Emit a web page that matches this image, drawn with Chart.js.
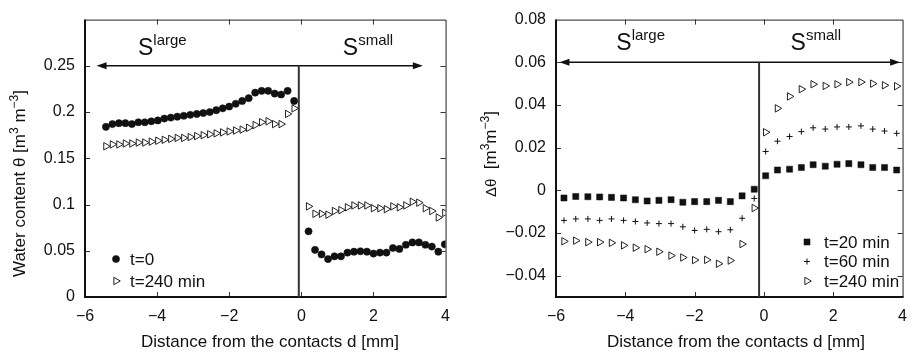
<!DOCTYPE html>
<html>
<head>
<meta charset="utf-8">
<script src="https://cdn.jsdelivr.net/npm/chart.js@4.4.1/dist/chart.umd.min.js"></script>
<style>
  html, body { margin: 0; padding: 0; background: #fff; }
  #wrap { position: relative; width: 917px; height: 355px; }
  canvas { position: absolute; top: 0; }
</style>
</head>
<body>
<div id="wrap">
  <canvas id="left" width="460" height="355" style="left:0"></canvas>
  <canvas id="right" width="457" height="355" style="left:460px"></canvas>
</div>
<script>
// ---- left panel: water content ----
var leftXLarge = [-5.42, -5.24, -5.06, -4.88, -4.70, -4.52, -4.34, -4.16, -3.98, -3.80,
  -3.62, -3.44, -3.26, -3.08, -2.90, -2.72, -2.54, -2.36, -2.18, -2.00,
  -1.82, -1.64, -1.46, -1.28, -1.10, -0.92, -0.74, -0.56, -0.38, -0.20];
var leftXSmall = [0.20, 0.38, 0.56, 0.74, 0.92, 1.10, 1.28, 1.46, 1.64, 1.82, 2.00,
  2.18, 2.36, 2.54, 2.72, 2.90, 3.08, 3.26, 3.44, 3.62, 3.80, 3.98];

var theta0Large = [0.184, 0.187, 0.188, 0.188, 0.187, 0.189, 0.189, 0.190, 0.191, 0.193,
  0.194, 0.195, 0.196, 0.197, 0.198, 0.199, 0.200, 0.202, 0.204, 0.206,
  0.209, 0.212, 0.215, 0.221, 0.223, 0.223, 0.220, 0.219, 0.223, 0.212];
var theta240Large = [0.163, 0.165, 0.165, 0.166, 0.166, 0.167, 0.167, 0.168, 0.169, 0.170,
  0.171, 0.172, 0.172, 0.173, 0.174, 0.175, 0.176, 0.177, 0.178, 0.179,
  0.180, 0.181, 0.183, 0.186, 0.189, 0.190, 0.187, 0.187, 0.198, 0.204];
var theta0Small = [0.071, 0.051, 0.046, 0.041, 0.044, 0.044, 0.048, 0.049, 0.0495, 0.049, 0.047,
  0.048, 0.048, 0.053, 0.052, 0.0565, 0.059, 0.059, 0.0565, 0.0545, 0.049, 0.057];
var theta240Small = [0.098, 0.090, 0.090, 0.089, 0.093, 0.094, 0.097, 0.099, 0.099, 0.099, 0.096,
  0.096, 0.095, 0.098, 0.097, 0.099, 0.103, 0.102, 0.096, 0.093, 0.086, 0.091];

// ---- right panel: change of water content ----
var rightXLarge = [-5.77, -5.43, -5.08, -4.74, -4.40, -4.05, -3.71, -3.37, -3.03,
  -2.68, -2.34, -2.00, -1.65, -1.31, -0.97, -0.63, -0.28];
var rightXSmall = [0.05, 0.39, 0.74, 1.08, 1.42, 1.77, 2.11, 2.45, 2.80, 3.14, 3.48, 3.83];

var d20Large = [-0.0036, -0.0029, -0.0030, -0.0031, -0.0033, -0.0036, -0.0044, -0.0050, -0.0047,
  -0.0044, -0.0056, -0.0053, -0.0053, -0.0047, -0.0053, -0.0026, 0.0005];
var d20Small = [0.0068, 0.0095, 0.0099, 0.0107, 0.0120, 0.0113, 0.0122, 0.0125, 0.0120, 0.0107, 0.0107, 0.0095];
var d60Large = [-0.0141, -0.0134, -0.0134, -0.0141, -0.0134, -0.0141, -0.0146, -0.0153, -0.0156,
  -0.0156, -0.0171, -0.0188, -0.0183, -0.0194, -0.0185, -0.0131, -0.0038];
var d60Small = [0.0182, 0.0230, 0.0252, 0.0275, 0.0293, 0.0287, 0.0297, 0.0297, 0.0302, 0.0287, 0.0278, 0.0267];
var d240Large = [-0.0239, -0.0236, -0.0243, -0.0243, -0.0246, -0.0258, -0.0269, -0.0276, -0.0288,
  -0.0306, -0.0315, -0.0327, -0.0326, -0.0344, -0.0329, -0.0252, -0.0083];
var d240Small = [0.0272, 0.0384, 0.0440, 0.0474, 0.0497, 0.0489, 0.0497, 0.0507, 0.0507, 0.0500, 0.0492, 0.0488];

// ticks
var xTicks = [-6, -4, -2, 0, 2, 4];
var leftYTicks = [0, 0.05, 0.1, 0.15, 0.2, 0.25];
var rightYTicks = [-0.04, -0.02, 0, 0.02, 0.04, 0.06, 0.08];

var FONT = "'Liberation Sans', Arial, Helvetica, sans-serif";
Chart.defaults.font.family = FONT;
Chart.defaults.font.size = 16;
Chart.defaults.color = '#111';

function pts(xs, ys) {
  return xs.map(function (x, i) { return { x: x, y: ys[i] }; });
}
function fmt(v) { return String(v).replace('-', '\u2212'); }

// text with superscripts, drawn left to right on an alphabetic baseline
function drawRich(ctx, parts, x, y) {
  ctx.textBaseline = 'alphabetic';
  ctx.textAlign = 'left';
  parts.forEach(function (p) {
    ctx.font = p.s + 'px ' + FONT;
    ctx.fillText(p.t, x, y + (p.dy || 0));
    x += ctx.measureText(p.t).width;
  });
}

function arrowHead(ctx, x, y, dir) {
  ctx.beginPath();
  ctx.moveTo(x, y);
  ctx.lineTo(x - dir * 10, y - 3.5);
  ctx.lineTo(x - dir * 10, y + 3.5);
  ctx.closePath();
  ctx.fill();
}

function decor(o) {
  return {
    id: 'decor',
    afterDatasetsDraw: function (chart) {
      var ctx = chart.ctx, a = chart.chartArea;
      var xs = chart.scales.x, ys = chart.scales.y;
      ctx.save();
      ctx.fillStyle = '#111';
      ctx.strokeStyle = '#111';

      // inward tick marks
      ctx.lineWidth = 1;
      ctx.strokeStyle = '#333';
      o.xTicks.forEach(function (v) {
        var px = Math.round(xs.getPixelForValue(v)) + 0.5;
        if (px < a.left + 2 || px > a.right - 2) return;
        ctx.beginPath();
        ctx.moveTo(px, a.bottom); ctx.lineTo(px, a.bottom - 5);
        ctx.moveTo(px, a.top); ctx.lineTo(px, a.top + 5);
        ctx.stroke();
      });
      o.yTicks.forEach(function (v) {
        var py = Math.round(ys.getPixelForValue(v)) + 0.5;
        if (py < a.top + 2 || py > a.bottom - 2) return;
        ctx.beginPath();
        ctx.moveTo(a.left, py); ctx.lineTo(a.left + 5, py);
        ctx.moveTo(a.right, py); ctx.lineTo(a.right - 5, py);
        ctx.stroke();
      });

      // frame
      ctx.strokeStyle = '#222';
      ctx.lineWidth = 1;
      ctx.beginPath();
      ctx.moveTo(a.left, a.top + 0.5); ctx.lineTo(a.right + 0.5, a.top + 0.5);
      ctx.lineTo(a.right + 0.5, a.bottom);
      ctx.stroke();
      ctx.strokeStyle = '#111';
      ctx.lineWidth = 2;
      ctx.beginPath();
      ctx.moveTo(a.left, a.top); ctx.lineTo(a.left, a.bottom);
      ctx.lineTo(a.right + 1, a.bottom);
      ctx.stroke();

      // two-headed arrow and contact line
      var ay = ys.getPixelForValue(o.arrowY);
      var ax1 = xs.getPixelForValue(o.arrowX[0]), ax2 = xs.getPixelForValue(o.arrowX[1]);
      ctx.lineWidth = 1.5;
      ctx.beginPath();
      ctx.moveTo(ax1 + 4, ay); ctx.lineTo(ax2 - 4, ay);
      ctx.stroke();
      arrowHead(ctx, ax1, ay, -1);
      arrowHead(ctx, ax2, ay, 1);
      var vx = xs.getPixelForValue(o.contactX);
      ctx.lineWidth = 2;
      ctx.strokeStyle = '#333';
      ctx.beginPath();
      ctx.moveTo(vx, ys.getPixelForValue(o.contactY[0]));
      ctx.lineTo(vx, ys.getPixelForValue(o.contactY[1]));
      ctx.stroke();

      // region labels
      ctx.fillStyle = '#111';
      o.regions.forEach(function (r) {
        drawRich(ctx, [{ t: 'S', s: 23 }, { t: r.sup, s: 15, dy: -10 }],
          xs.getPixelForValue(r.x), ys.getPixelForValue(r.y));
      });

      // axis titles
      ctx.save();
      ctx.translate(o.yTitle.x, o.yTitle.y);
      ctx.rotate(-Math.PI / 2);
      drawRich(ctx, o.yTitle.parts, 0, 0);
      ctx.restore();
      ctx.font = '17px ' + FONT;
      ctx.textAlign = 'center';
      ctx.textBaseline = 'alphabetic';
      ctx.fillText('Distance from the contacts d [mm]', o.xTitle.x, o.xTitle.y);

      // legend
      o.legend.rows.forEach(function (row, i) {
        var ds = chart.data.datasets[i];
        var y = o.legend.y + i * o.legend.gap;
        ctx.fillStyle = ds.backgroundColor;
        ctx.strokeStyle = ds.borderColor;
        ctx.lineWidth = ds.borderWidth;
        Chart.helpers.drawPoint(ctx, {
          pointStyle: ds.pointStyle, rotation: ds.rotation || 0,
          radius: ds.pointRadius, borderWidth: ds.borderWidth
        }, o.legend.x, y);
        ctx.fillStyle = '#111';
        ctx.font = '17px ' + FONT;
        ctx.textAlign = 'left';
        ctx.textBaseline = 'middle';
        ctx.fillText(row, o.legend.x + o.legend.textGap, y + 1);
      });
      ctx.restore();
    }
  };
}

function axes(yMin, yMax, yTicks, yWidth) {
  return {
    x: {
      type: 'linear', min: -6, max: 4,
      afterBuildTicks: function (s) { s.ticks = xTicks.map(function (v) { return { value: v }; }); },
      afterFit: function (s) { s.height = 58; },
      ticks: { callback: fmt, padding: 10, maxRotation: 0, autoSkip: false },
      grid: { display: false, drawTicks: false },
      border: { display: false }
    },
    y: {
      type: 'linear', min: yMin, max: yMax,
      afterBuildTicks: function (s) { s.ticks = yTicks.map(function (v) { return { value: v }; }); },
      afterFit: function (s) { s.width = yWidth; },
      ticks: { callback: fmt, padding: 10, autoSkip: false },
      grid: { display: false, drawTicks: false },
      border: { display: false }
    }
  };
}

var common = {
  responsive: false,
  animation: false,
  events: [],
  plugins: { legend: { display: false }, tooltip: { enabled: false } }
};

new Chart(document.getElementById('left'), {
  type: 'scatter',
  data: {
    datasets: [
      { label: 't=0', data: pts(leftXLarge, theta0Large).concat(pts(leftXSmall, theta0Small)),
        pointStyle: 'circle', pointRadius: 3.6, backgroundColor: '#111', borderColor: '#111', borderWidth: 0.5 },
      { label: 't=240 min', data: pts(leftXLarge, theta240Large).concat(pts(leftXSmall, theta240Small)),
        pointStyle: 'triangle', rotation: 90, pointRadius: 4.3, backgroundColor: 'rgba(0,0,0,0)', borderColor: '#222', borderWidth: 1 }
    ]
  },
  options: Object.assign({}, common, {
    layout: { padding: { top: 12, right: 14, left: 0, bottom: 0 } },
    scales: axes(0, 0.3, leftYTicks, 85)
  }),
  plugins: [decor({
    xTicks: xTicks, yTicks: leftYTicks,
    arrowY: 0.25, arrowX: [-5.68, 3.37], contactX: -0.07, contactY: [0, 0.25],
    regions: [{ sup: 'large', x: -4.53, y: 0.262 }, { sup: 'small', x: 1.15, y: 0.262 }],
    yTitle: { x: 25, y: 277, parts: [{ t: 'Water content \u03b8 [m', s: 17 }, { t: '3', s: 12, dy: -7 },
      { t: ' m', s: 17 }, { t: '\u22123', s: 12, dy: -7 }, { t: ']', s: 17 }] },
    xTitle: { x: 270, y: 347 },
    legend: { x: 116, y: 259, gap: 22, textGap: 14, rows: ['t=0', 't=240 min'] }
  })]
});

new Chart(document.getElementById('right'), {
  type: 'scatter',
  data: {
    datasets: [
      { label: 't=20 min', data: pts(rightXLarge, d20Large).concat(pts(rightXSmall, d20Small)),
        pointStyle: 'rect', pointRadius: 4.3, backgroundColor: '#111', borderColor: '#111', borderWidth: 0.5 },
      { label: 't=60 min', data: pts(rightXLarge, d60Large).concat(pts(rightXSmall, d60Small)),
        pointStyle: 'cross', pointRadius: 3, backgroundColor: '#111', borderColor: '#111', borderWidth: 1 },
      { label: 't=240 min', data: pts(rightXLarge, d240Large).concat(pts(rightXSmall, d240Small)),
        pointStyle: 'triangle', rotation: 90, pointRadius: 4.3, backgroundColor: 'rgba(0,0,0,0)', borderColor: '#222', borderWidth: 1 }
    ]
  },
  options: Object.assign({}, common, {
    layout: { padding: { top: 10, right: 11, left: 0, bottom: 0 } },
    scales: axes(-0.05, 0.08, rightYTicks, 96)
  }),
  plugins: [decor({
    xTicks: xTicks, yTicks: rightYTicks,
    arrowY: 0.06, arrowX: [-5.9, 3.93], contactX: -0.14, contactY: [-0.05, 0.06],
    regions: [{ sup: 'large', x: -4.26, y: 0.0657 }, { sup: 'small', x: 0.77, y: 0.0657 }],
    yTitle: { x: 36, y: 197, parts: [{ t: '\u0394\u03b8', s: 15 }, { t: '  [m', s: 17 }, { t: '3', s: 12, dy: -7 },
      { t: 'm', s: 17 }, { t: '\u22123', s: 12, dy: -7 }, { t: ']', s: 17 }] },
    xTitle: { x: 276, y: 347 },
    legend: { x: 347, y: 242, gap: 19.5, textGap: 17, rows: ['t=20 min', 't=60 min', 't=240 min'] }
  })]
});
</script>
</body>
</html>
